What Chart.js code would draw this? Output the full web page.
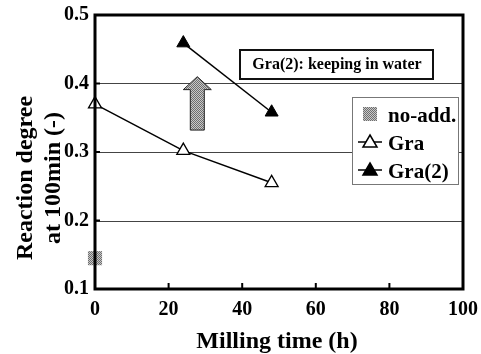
<!DOCTYPE html>
<html>
<head>
<meta charset="utf-8">
<script src="https://cdn.jsdelivr.net/npm/chart.js@4.4.0/dist/chart.umd.min.js"></script>
<style>
  html, body { margin: 0; padding: 0; background: #fff; }
  #wrap { width: 481px; height: 354px; position: relative; }
</style>
</head>
<body>
<div id="wrap"><canvas id="chart" width="481" height="354"></canvas></div>
<script>
/* ── DATA ── */
const xTicks      = [0, 20, 40, 60, 80, 100];
const yTicks      = [0.1, 0.2, 0.3, 0.4, 0.5];
const noAddX      = [0];
const noAddY      = [0.145];
const graX        = [0, 24, 48];
const graY        = [0.370, 0.302, 0.255];
const gra2X       = [24, 48];
const gra2Y       = [0.459, 0.358];
const noteText    = 'Gra(2): keeping in water';
const xTitle      = 'Milling time (h)';
const yTitle      = ['Reaction degree', 'at 100min (-)'];
const arrowFrom   = [27.8, 0.332];   /* data coords: arrow foot */
const arrowTo     = [27.8, 0.410];   /* data coords: arrow tip  */

const FONT = '"Liberation Serif", "Times New Roman", serif';

/* ── dithered grey fill ── */
function ditherPattern(ctx) {
  const c = document.createElement('canvas');
  c.width = 2; c.height = 2;
  const p = c.getContext('2d');
  p.fillStyle = '#c8c8c8'; p.fillRect(0, 0, 2, 2);
  p.fillStyle = '#6e6e6e'; p.fillRect(0, 0, 1, 1); p.fillRect(1, 1, 1, 1);
  return ctx.createPattern(c, 'repeat');
}

const zip = (xs, ys) => xs.map((x, i) => ({ x, y: ys[i] }));

/* ═══════════════════════════════════════════════
   OVERLAY — grid, frame, ticks, arrow, note, legend, titles
═══════════════════════════════════════════════ */
const overlay = {
  id: 'overlay',
  beforeDatasetsDraw(chart) {
    const { ctx, chartArea: a, scales: { x, y } } = chart;
    ctx.save();
    /* gridlines */
    ctx.strokeStyle = '#444';
    ctx.lineWidth = 1;
    [0.2, 0.3, 0.4].forEach(v => {
      const py = Math.round(y.getPixelForValue(v)) + 0.5;
      ctx.beginPath(); ctx.moveTo(a.left, py); ctx.lineTo(a.right, py); ctx.stroke();
    });

    /* arrow */
    const ax = x.getPixelForValue(arrowFrom[0]);
    const y0 = y.getPixelForValue(arrowFrom[1]);
    const y1 = y.getPixelForValue(arrowTo[1]);
    ctx.beginPath();
    ctx.moveTo(ax - 7, y0);
    ctx.lineTo(ax - 7, y1 + 13);
    ctx.lineTo(ax - 14, y1 + 13);
    ctx.lineTo(ax, y1);
    ctx.lineTo(ax + 14, y1 + 13);
    ctx.lineTo(ax + 7, y1 + 13);
    ctx.lineTo(ax + 7, y0);
    ctx.closePath();
    ctx.fillStyle = ditherPattern(ctx);
    ctx.fill();
    ctx.strokeStyle = '#222';
    ctx.lineWidth = 1;
    ctx.stroke();
    ctx.restore();
  },
  afterDatasetsDraw(chart) {
    const { ctx, chartArea: a, scales: { x, y } } = chart;
    ctx.save();

    /* inward ticks */
    ctx.strokeStyle = '#000';
    ctx.lineWidth = 2;
    xTicks.slice(1, -1).forEach(v => {
      const px = x.getPixelForValue(v);
      ctx.beginPath(); ctx.moveTo(px, a.bottom); ctx.lineTo(px, a.bottom - 6); ctx.stroke();
    });
    yTicks.slice(1, -1).forEach(v => {
      const py = y.getPixelForValue(v);
      ctx.beginPath(); ctx.moveTo(a.left, py); ctx.lineTo(a.left + 5, py); ctx.stroke();
    });

    /* frame */
    ctx.lineWidth = 3;
    ctx.strokeRect(a.left, a.top, a.right - a.left, a.bottom - a.top);

    /* note box */
    ctx.font = 'bold 16px ' + FONT;
    ctx.textBaseline = 'middle';
    ctx.fillStyle = '#fff';
    ctx.fillRect(240, 50, 193, 29);
    ctx.lineWidth = 2;
    ctx.strokeStyle = '#111';
    ctx.strokeRect(240, 50, 193, 29);
    ctx.fillStyle = '#000';
    ctx.textAlign = 'center';
    ctx.fillText(noteText, 337, 65);

    /* legend */
    const lx = 352, ly = 97, lw = 106, lh = 87;
    ctx.fillStyle = '#fff';
    ctx.fillRect(lx, ly, lw, lh);
    ctx.lineWidth = 1;
    ctx.strokeStyle = '#777';
    ctx.strokeRect(lx + 0.5, ly + 0.5, lw, lh);
    ctx.font = 'bold 21px ' + FONT;
    ctx.textAlign = 'left';
    ctx.textBaseline = 'alphabetic';
    chart.data.datasets.forEach((ds, i) => {
      const cy = 114 + i * 28;
      const mx = 370;
      if (ds.pointStyle === 'rect') {
        ctx.fillStyle = ditherPattern(ctx);
        ctx.fillRect(mx - 7, cy - 7, 14, 14);
      } else {
        ctx.strokeStyle = '#000';
        ctx.lineWidth = 1.5;
        ctx.beginPath(); ctx.moveTo(mx - 12, cy); ctx.lineTo(mx + 12, cy); ctx.stroke();
        ctx.beginPath();
        ctx.moveTo(mx, cy - 7); ctx.lineTo(mx + 7, cy + 5); ctx.lineTo(mx - 7, cy + 5); ctx.closePath();
        ctx.fillStyle = ds.pointBackgroundColor;
        ctx.fill(); ctx.stroke();
      }
      ctx.fillStyle = '#000';
      ctx.fillText(ds.label, 388, cy + 8);
    });

    /* axis titles */
    ctx.font = 'bold 24px ' + FONT;
    ctx.textAlign = 'center';
    ctx.fillText(xTitle, 277, 348);
    ctx.translate(0, 178);
    ctx.rotate(-Math.PI / 2);
    ctx.fillText(yTitle[0], 0, 32);
    ctx.fillText(yTitle[1], 0, 60);
    ctx.restore();
  }
};

/* ═══════════════════════════════════════════════
   CHART
═══════════════════════════════════════════════ */
const ctx2d = document.getElementById('chart').getContext('2d');

new Chart(ctx2d, {
  type: 'scatter',
  data: {
    datasets: [
      {
        label: 'no-add.',
        data: zip(noAddX, noAddY),
        pointStyle: 'rect',
        pointRadius: 10,
        pointBackgroundColor: ditherPattern(ctx2d),
        pointBorderWidth: 0,
        showLine: false,
        clip: false
      },
      {
        label: 'Gra',
        data: zip(graX, graY),
        pointStyle: 'triangle',
        pointRadius: 7.5,
        pointBackgroundColor: '#fff',
        pointBorderColor: '#000',
        pointBorderWidth: 1.3,
        borderColor: '#000',
        borderWidth: 1.5,
        showLine: true,
        clip: false
      },
      {
        label: 'Gra(2)',
        data: zip(gra2X, gra2Y),
        pointStyle: 'triangle',
        pointRadius: 7.5,
        pointBackgroundColor: '#000',
        pointBorderColor: '#000',
        pointBorderWidth: 1,
        borderColor: '#000',
        borderWidth: 1.5,
        showLine: true,
        clip: false
      }
    ]
  },
  options: {
    responsive: false,
    animation: false,
    layout: { padding: { top: 15, right: 18, left: 0, bottom: 0 } },
    plugins: { legend: { display: false }, tooltip: { enabled: false } },
    scales: {
      x: {
        type: 'linear',
        min: 0, max: 100,
        afterBuildTicks: s => { s.ticks = xTicks.map(v => ({ value: v })); },
        afterFit: s => { s.height = 65; s.paddingLeft = 0; s.paddingRight = 0; },
        grid: { display: false, drawTicks: false },
        border: { display: false },
        ticks: {
          color: '#000',
          font: { family: FONT, size: 20, weight: 'bold' },
          padding: 9,
          maxRotation: 0
        },
        title: { display: false }
      },
      y: {
        type: 'linear',
        min: 0.1, max: 0.5,
        afterBuildTicks: s => { s.ticks = yTicks.map(v => ({ value: v })); },
        afterFit: s => { s.width = 95; s.paddingTop = 0; s.paddingBottom = 0; },
        grid: { display: false, drawTicks: false },
        border: { display: false },
        ticks: {
          color: '#000',
          font: { family: FONT, size: 20, weight: 'bold' },
          padding: 6,
          callback: v => v.toFixed(1)
        },
        title: { display: false }
      }
    }
  },
  plugins: [overlay]
});
</script>
</body>
</html>
